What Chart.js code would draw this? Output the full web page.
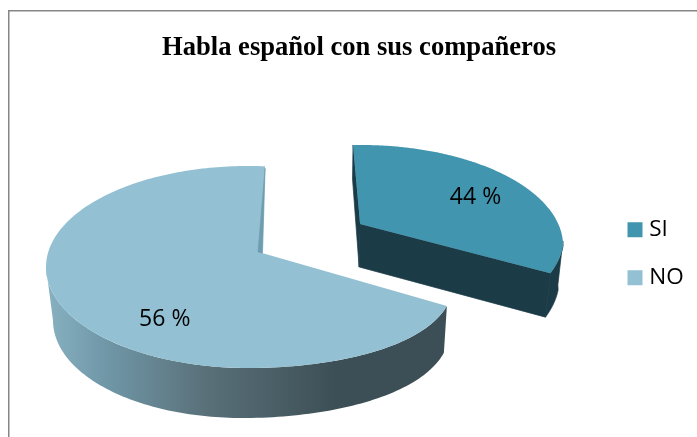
<!DOCTYPE html>
<html>
<head>
<meta charset="utf-8">
<style>html,body{margin:0;padding:0;background:#fff;overflow:hidden}#w{position:absolute;left:0;top:0;width:697px;height:437px}</style>
<script src="https://cdn.jsdelivr.net/npm/chart.js@4"></script>
</head>
<body>
<div id="w"><canvas id="c" width="697" height="437"></canvas></div>
<script>
const titleText = 'Habla español con sus compañeros';
const categories = ['SI', 'NO'];
// Slice sizes as drawn in the picture (about 120 and 240 degrees).
const drawnShares = [33, 67];
// Labels as printed in the picture.
const printedLabels = ['44 %', '56 %'];
const topColors = ['#4295AF', '#93C1D3'];

const SQUASH = 0.5;
const ORIGIN = {x: 262, y: 253};
const look = [
  {ellipse: {x: 1, y: 22}, nudge: [-2.6, -1.5], bulge: -10, wall: {a: -5, b: 0, dy: 44}, label: {ang: -25.8, r: 0.64, dx: -1, dy: 2}},
  {ellipse: {x: -14, y: 14}, nudge: [1, 1], bulge: 17.6, wall: {a: 1.8, b: 5.2, dy: 50, c: 3.5}, label: {ang: 127, r: 0.8, dx: 0, dy: 2}}
];

function outline(g, L, t) {
  const s = Math.sin(t), c = Math.cos(t);
  const extra = (s > 0 && c > 0) ? L.bulge*2*s*c : 0;
  return {x: g.c.x + g.R*c + extra, y: g.c.y + g.ry*s, t};
}
// Finds where the direction of an arc edge meets the slice outline.
function rayHit(g, L, ang) {
  const dx = Math.cos(ang), dy = SQUASH*Math.sin(ang);
  let best = null, bestErr = Infinity;
  for (let k = 0; k < 7200; k++) {
    const t = -Math.PI + k*Math.PI/3600;
    const p = outline(g, L, t), ux = p.x - g.v.x, uy = p.y - g.v.y;
    const err = Math.abs(ux*dy - uy*dx);
    if (ux*dx + uy*dy > 0 && err < bestErr) { bestErr = err; best = p; }
  }
  return best;
}
function geometry(el, i) {
  const L = look[i];
  const off = el.options.offset || 0;
  const mid = (el.startAngle + el.endAngle) / 2;
  const v = off
    ? {x: ORIGIN.x + Math.cos(mid)*off, y: ORIGIN.y + SQUASH*Math.sin(mid)*off}
    : {x: ORIGIN.x, y: ORIGIN.y};
  const R = el.outerRadius, ry = R*SQUASH;
  const c = {x: v.x + L.ellipse.x, y: v.y + L.ellipse.y};
  const g = {v, c, R, ry};
  g.p0 = rayHit(g, L, el.startAngle + L.nudge[0]*Math.PI/180);
  g.p1 = rayHit(g, L, el.endAngle + L.nudge[1]*Math.PI/180);
  g.t0 = g.p0.t; g.t1 = g.p1.t;
  while (g.t1 < g.t0) g.t1 += 2*Math.PI;
  return g;
}
function wallOffset(L, t) {
  const w = L.wall, cs = Math.cos(t);
  return {x: w.a - w.b*cs, y: w.dy - (w.c||0)*cs};
}
function wallPath(ctx, g, L, from, to) {
  ctx.beginPath();
  const n = 120, pts = [];
  for (let k = 0; k <= n; k++) pts.push(outline(g, L, from + (to-from)*k/n));
  pts.forEach((p, k) => k ? ctx.lineTo(p.x, p.y) : ctx.moveTo(p.x, p.y));
  for (let k = n; k >= 0; k--) {
    const o = wallOffset(L, pts[k].t);
    ctx.lineTo(pts[k].x + o.x, pts[k].y + o.y);
  }
  ctx.closePath();
}
function poly(ctx, pts, fill) {
  ctx.beginPath();
  pts.forEach((p, k) => k ? ctx.lineTo(p[0], p[1]) : ctx.moveTo(p[0], p[1]));
  ctx.closePath(); ctx.fillStyle = fill; ctx.fill();
  ctx.strokeStyle = fill; ctx.lineWidth = 0.7; ctx.stroke();
}
function face(ctx, g, L, fill) {
  ctx.beginPath();
  ctx.moveTo(g.v.x, g.v.y);
  const n = 240;
  for (let k = 0; k <= n; k++) {
    const p = outline(g, L, g.t0 + (g.t1-g.t0)*k/n);
    ctx.lineTo(p.x, p.y);
  }
  ctx.closePath();
  ctx.fillStyle = fill; ctx.fill();
}

const pie3d = {
  id: 'pie3d',
  beforeDraw(chart) {
    const ctx = chart.ctx;
    ctx.save();
    ctx.strokeStyle = '#868686'; ctx.lineWidth = 1.5;
    ctx.beginPath(); ctx.moveTo(8.75, 437); ctx.lineTo(8.75, 10.75); ctx.lineTo(697, 10.75); ctx.stroke();
    ctx.restore();
  },
  afterLayout(chart) {
    chart.titleBlock.left = 21; chart.titleBlock.right = 697;
    const lg = chart.legend;
    lg.left = 606.5; lg.right = 697; lg.top = 193; lg.bottom = 320;
  },
  beforeDatasetDraw(chart) {
    const ctx = chart.ctx, arcs = chart.getDatasetMeta(0).data;
    ctx.save();
    // NO slice
    const gN = geometry(arcs[1], 1), LN = look[1];
    const grad = ctx.createLinearGradient(50, 0, 335, 0);
    grad.addColorStop(0, '#86AFC0'); grad.addColorStop(0.18, '#7199A9');
    grad.addColorStop(0.55, '#597079'); grad.addColorStop(1, '#3D4F56');
    ctx.fillStyle = grad;
    wallPath(ctx, gN, LN, gN.t0, Math.PI); ctx.fill();
    face(ctx, gN, LN, topColors[1]);
    poly(ctx, [[gN.p1.x, gN.p1.y + 2], [gN.v.x + 0.5, gN.v.y], [gN.v.x - 4, gN.v.y - 1]], '#6F9DB0');
    // SI slice
    const gS = geometry(arcs[0], 0), LS = look[0];
    const side = '#1B3B47';
    ctx.fillStyle = side; ctx.strokeStyle = side; ctx.lineWidth = 0.7;
    wallPath(ctx, gS, LS, -0.05, gS.t1); ctx.fill(); ctx.stroke();
    const o = wallOffset(LS, gS.t1);
    poly(ctx, [[gS.v.x, gS.v.y], [gS.p1.x, gS.p1.y], [gS.p1.x + o.x, gS.p1.y + o.y], [gS.v.x - 1, gS.v.y + 43]], side);
    poly(ctx, [[gS.v.x, gS.v.y], [gS.p0.x, gS.p0.y], [gS.p0.x - 0.5, gS.p0.y + 34], [gS.v.x - 1, gS.v.y + 43]], side);
    face(ctx, gS, LS, topColors[0]);
    ctx.restore();
    return false;
  },
  afterDatasetsDraw(chart) {
    const ctx = chart.ctx, arcs = chart.getDatasetMeta(0).data;
    ctx.save();
    ctx.font = '23px "Open Sans"'; ctx.fillStyle = '#000';
    ctx.textAlign = 'center'; ctx.textBaseline = 'middle';
    arcs.forEach((el, i) => {
      const g = geometry(el, i), L = look[i], a = L.label.ang*Math.PI/180;
      ctx.fillText(printedLabels[i],
        g.v.x + Math.cos(a)*L.label.r*g.R + L.label.dx,
        g.v.y + SQUASH*Math.sin(a)*L.label.r*g.R + L.label.dy);
    });
    ctx.restore();
  }
};

new Chart(document.getElementById('c'), {
  type: 'pie',
  data: {
    labels: categories,
    datasets: [{
      data: drawnShares,
      backgroundColor: topColors,
      borderWidth: 0,
      offset: [114, 0],
      radius: 202
    }]
  },
  options: {
    responsive: false,
    animation: false,
    rotation: 0,
    events: [],
    layout: {padding: 0},
    plugins: {
      tooltip: {enabled: false},
      title: {
        display: true, text: titleText, color: '#000',
        font: {family: '"Liberation Serif"', size: 26.6, weight: 'bold'},
        padding: {top: 32, bottom: 0}
      },
      legend: {
        display: true, position: 'right', align: 'start',
        labels: {
          usePointStyle: true, pointStyle: 'rect',
          boxWidth: 6, boxHeight: 15, padding: 25.5, color: '#000',
          font: {family: '"Open Sans"', size: 22.5, lineHeight: 1.2}
        }
      }
    }
  },
  plugins: [pie3d]
});
</script>
</body>
</html>
